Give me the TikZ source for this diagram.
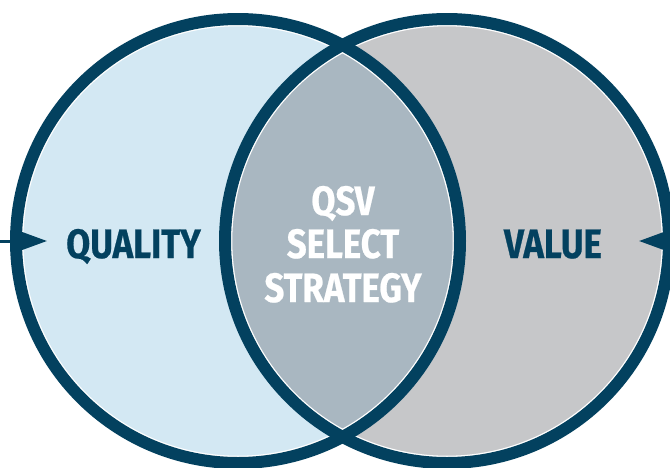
\documentclass[tikz,border=0pt]{standalone}
\usepackage{fontspec}
\setmainfont{Fira Sans}[FakeStretch=0.85, BoldFeatures={FakeBold=0.6}]
\usetikzlibrary{arrows.meta}
\definecolor{navy}{HTML}{03415F}
\definecolor{lightblue}{HTML}{D3E8F3}
\definecolor{lightgray}{HTML}{C6C7C9}
\definecolor{lensfill}{HTML}{A9B7C1}
\tikzset{
  ring/.style={draw=navy, line width=12pt},
  innerring/.style={draw=white, line width=1.6pt},
  label/.style={anchor=base, inner sep=0pt, font=\fontsize{41}{41}\selectfont\bfseries},
  pointer/.style={draw=navy, line width=3pt, -{Triangle[length=30pt,width=21pt]}}
}
\begin{document}
\begin{tikzpicture}[x=1pt,y=-1pt]
\useasboundingbox (0,0) rectangle (670,467);
\clip (0,0) rectangle (670,467);
% fills
\fill[lightblue] (238,241) circle (222);
\fill[lightgray] (447,241) circle (222);
\begin{scope}
  \clip (238,241) circle (222);
  \fill[lensfill] (447,241) circle (222);
\end{scope}
% thin white inner rings
\draw[innerring] (238,241) circle (215.5);
\draw[innerring] (447,241) circle (215.5);
% arrows
\coordinate (lstart) at (-5,241);
\coordinate (ltip) at (47,241);
\coordinate (rstart) at (675,241);
\coordinate (rtip) at (639,241);
\draw[pointer] (lstart) -- (ltip);
\draw[pointer] (rstart) -- (rtip);
% outlines
\draw[ring] (238,241) circle (222);
\draw[ring] (447,241) circle (222);
% labels
\node[label, text=navy] (quality) at (133.5,258) {QUALITY};
\node[label, text=navy] (value) at (553,258) {VALUE};
\node[label, text=white] (qsv) at (343,215) {QSV};
\node[label, text=white] (select) at (343,258) {SELECT};
\node[label, text=white] (strategy) at (343,302) {STRATEGY};
\end{tikzpicture}
\end{document}
